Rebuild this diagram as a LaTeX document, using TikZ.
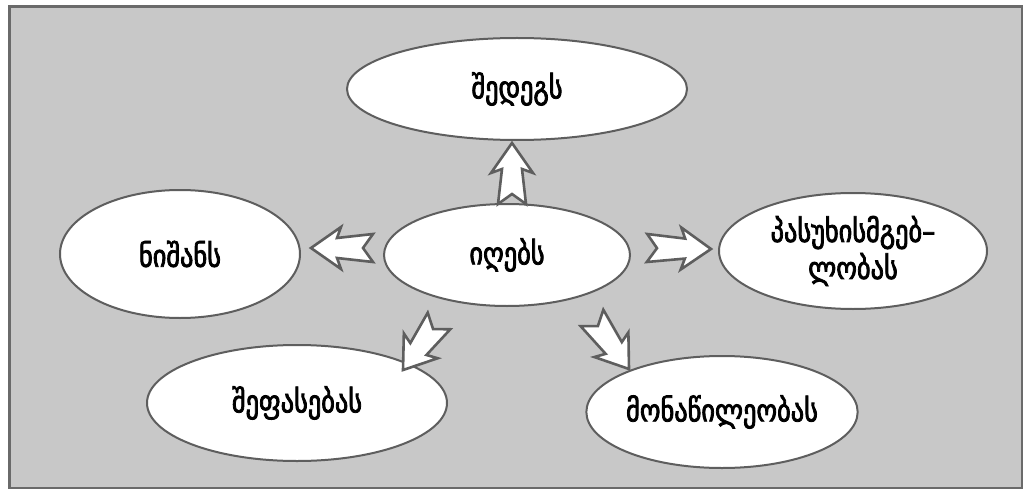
\documentclass[tikz,border=0pt]{standalone}
\usepackage{fontspec}
\setmainfont{DejaVu Sans}
\newfontfamily\geo[FakeBold=2.6,FakeStretch=0.85]{DejaVu Sans}
\usetikzlibrary{shapes.geometric,calc}
\definecolor{bg}{HTML}{C8C8C8}
\definecolor{frame}{HTML}{6A6A6A}
\definecolor{edge}{HTML}{5E5E5E}
\tikzset{
  oval/.style={ellipse, draw=edge, line width=2pt, fill=white, inner sep=0pt,
    align=center, font=\geo\fontsize{31}{37}\selectfont},
  blockarr/.style={draw=edge, fill=white, line width=2.6pt, line join=miter},
}
\newcommand\barrow[2]{%
  \draw[blockarr]
    ($(#1)!14pt!90:(#2)$) --
    ($(#2)!26pt!(#1)!10pt!-90:(#1)$) --
    ($(#2)!30pt!(#1)!21pt!-90:(#1)$) --
    (#2) --
    ($(#2)!30pt!(#1)!21pt!90:(#1)$) --
    ($(#2)!26pt!(#1)!10pt!90:(#1)$) --
    ($(#1)!14pt!-90:(#2)$) --
    ($(#1)!10pt!(#2)$) -- cycle;}
\begin{document}
\begin{tikzpicture}[x=1pt,y=-1pt]
\useasboundingbox (0,0) rectangle (1024,489);
\fill[white] (0,0) rectangle (1024,489);
\draw[frame, line width=2.6pt, fill=bg] (9.5,6.5) rectangle (1022,488);

\node[oval, minimum width=340pt, minimum height=102pt] (top) at (517,89) {შედეგს};
\node[oval, minimum width=240pt, minimum height=128pt] (left) at (180,254) {ნიშანს};
\node[oval, minimum width=246pt, minimum height=102pt] (mid) at (507,255) {იღებს};
\node[oval, minimum width=268pt, minimum height=116pt] (right) at (853,251) {პასუხისმგებ–\\ლობას};
\node[oval, minimum width=300pt, minimum height=116pt] (bl) at (297,403) {შეფასებას};
\node[oval, minimum width=266pt, minimum height=112pt] (br) at (722,412) {მონაწილეობას};

\coordinate (a1s) at (512,204); \coordinate (a1e) at (512,143);
\coordinate (a2s) at (373,248); \coordinate (a2e) at (311,248);
\coordinate (a3s) at (647,248); \coordinate (a3e) at (711,249);
\coordinate (a4s) at (439,321); \coordinate (a4e) at (403,370);
\coordinate (a5s) at (592,318); \coordinate (a5e) at (629,369);

\barrow{a1s}{a1e}
\barrow{a2s}{a2e}
\barrow{a3s}{a3e}
\barrow{a4s}{a4e}
\barrow{a5s}{a5e}
\end{tikzpicture}
\end{document}
